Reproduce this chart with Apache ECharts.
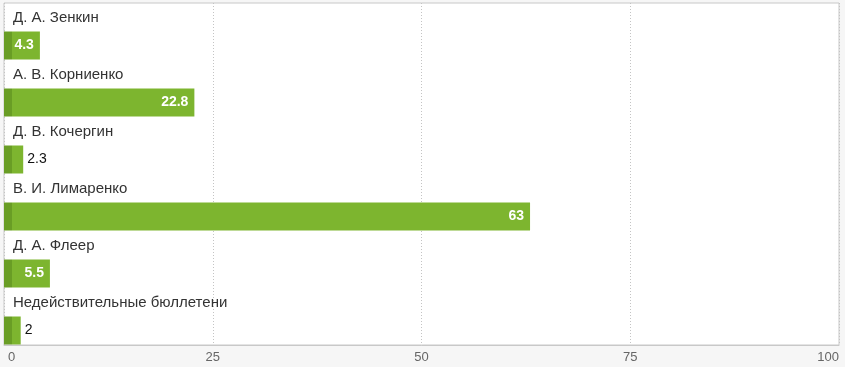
<!DOCTYPE html>
<html><head><meta charset="utf-8">
<script src="https://cdn.jsdelivr.net/npm/echarts@6/dist/echarts.min.js"></script>
<style>html,body{margin:0;padding:0;background:#f6f6f6}#c{width:845px;height:367px}</style>
</head><body><div id="c"></div>
<script>
var categories = ['Д. А. Зенкин','А. В. Корниенко','Д. В. Кочергин','В. И. Лимаренко','Д. А. Флеер','Недействительные бюллетени'];
var values = [4.3, 22.8, 2.3, 63, 5.5, 2];
var tickMin = 0, tickMax = 100, tickStep = 25;

var chart = echarts.init(document.getElementById('c'));
var font = '"Liberation Sans", Arial, Helvetica, sans-serif';
var barFill = new echarts.graphic.LinearGradient(0, 0, 12, 0, [
  {offset: 0, color: '#699d25'}, {offset: 0.999, color: '#699d25'}, {offset: 1, color: '#7db52f'}
], true);
chart.setOption({
  animation: false,
  grid: {left: 4, right: 6, top: 3, bottom: 22, show: true, backgroundColor: '#ffffff', borderColor: '#c8c8c8', borderWidth: 1},
  xAxis: {
    type: 'value', min: tickMin, max: tickMax, interval: tickStep,
    axisLine: {show: true, lineStyle: {color: '#c8c8c8'}},
    axisTick: {show: false},
    splitLine: {show: true, lineStyle: {color: '#c4c4c4', type: [1, 2]}},
    axisLabel: {color: '#666', fontFamily: font, fontSize: 13, margin: 6, alignMinLabel: 'left', alignMaxLabel: 'right',
      formatter: function (v) { return v === tickMin ? '{z|' + v + '}' : String(v); },
      rich: {z: {padding: [0, 0, 0, 4], color: '#666', fontFamily: font, fontSize: 13}}}
  },
  yAxis: {
    type: 'category', data: categories, inverse: true,
    axisLine: {show: false}, axisTick: {show: false}, axisLabel: {show: false}, splitLine: {show: false}
  },
  series: [
    {
      type: 'bar', silent: true, barWidth: 28, barGap: '0%',
      data: categories.map(function () { return tickMax; }),
      itemStyle: {color: 'rgba(0,0,0,0)'},
      label: {show: true, position: 'insideLeft', distance: 9, color: '#333', fontFamily: font, fontSize: 15,
        formatter: function (p) { return p.name; }}
    },
    {
      type: 'bar', barWidth: 28, barGap: '0%',
      data: values.map(function (v) {
        var inside = v >= 4;
        return {value: v, label: inside ?
          {position: 'insideRight', distance: 6, color: '#fff', fontWeight: 'bold'} :
          {position: 'right', distance: 4, color: '#111', fontWeight: 'normal'}};
      }),
      itemStyle: {color: barFill},
      label: {show: true, fontFamily: font, fontSize: 14}
    }
  ]
});
</script></body></html>
